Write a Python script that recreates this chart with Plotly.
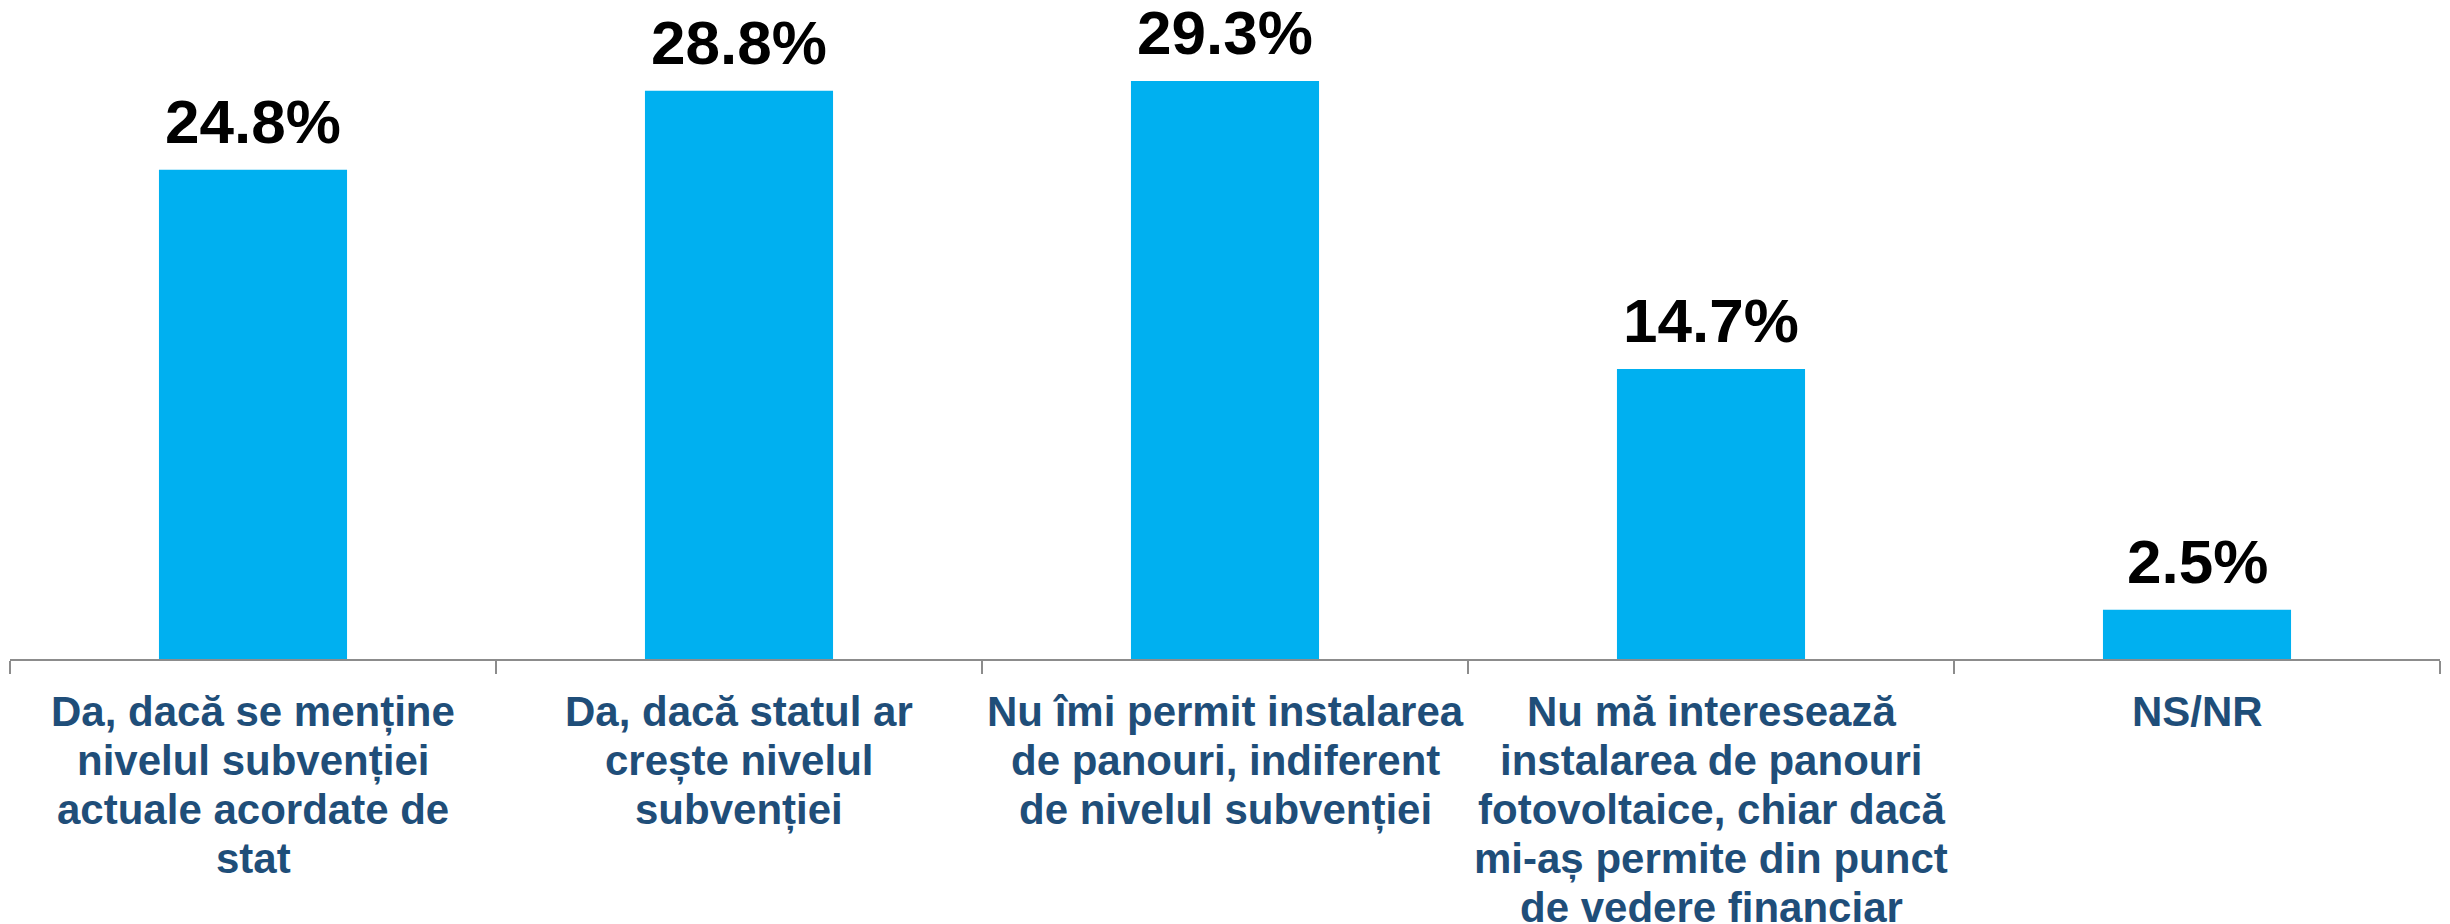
import plotly.graph_objects as go

category_lines = [
    ["Da, dacă se menține", "nivelul subvenției", "actuale acordate de", "stat"],
    ["Da, dacă statul ar", "crește nivelul", "subvenției"],
    ["Nu îmi permit instalarea", "de panouri, indiferent", "de nivelul subvenției"],
    ["Nu mă interesează", "instalarea de panouri", "fotovoltaice, chiar dacă", "mi-aș permite din punct", "de vedere financiar"],
    ["NS/NR"],
]
categories = [" ".join(lines) for lines in category_lines]
values = [24.8, 28.8, 29.3, 14.7, 2.5]
labels = ["24.8%", "28.8%", "29.3%", "14.7%", "2.5%"]

BAR = "#00B0F0"
LABEL_BLUE = "#1F4E79"
FONT = "Liberation Sans, Arial, sans-serif"

fig = go.Figure()
fig.add_trace(go.Bar(
    x=categories, y=values,
    marker=dict(color=BAR, line=dict(width=0)),
    hoverinfo="skip",
))

for c, v, t in zip(categories, values, labels):
    fig.add_annotation(
        x=c, y=v, text=f"<b>{t}</b>", showarrow=False,
        yanchor="bottom", yshift=12,
        font=dict(family=FONT, size=62, color="#000000"),
    )

LINE_H = 49
for c, lines in zip(categories, category_lines):
    for i, ln in enumerate(lines):
        fig.add_annotation(
            x=c, y=0, text=f"<b>{ln}</b>", showarrow=False,
            xanchor="center", yanchor="top", yshift=-27 - i * LINE_H,
            font=dict(family=FONT, size=42, color=LABEL_BLUE),
        )

fig.update_layout(
    width=2450, height=924,
    margin=dict(l=2, r=18, t=0, b=273),
    paper_bgcolor="white", plot_bgcolor="white",
    bargap=0.613,
    showlegend=False,
    font=dict(family=FONT),
)
fig.update_xaxes(
    type="category", automargin=False,
    showline=True, linecolor="#8C8C8C", linewidth=2,
    ticks="outside", tickson="boundaries", ticklen=13, tickcolor="#8C8C8C", tickwidth=2,
    showticklabels=False,
    showgrid=False,
)
fig.update_yaxes(range=[0, 33.0], visible=False, showgrid=False, zeroline=False, automargin=False)

fig.write_html("out.html")
